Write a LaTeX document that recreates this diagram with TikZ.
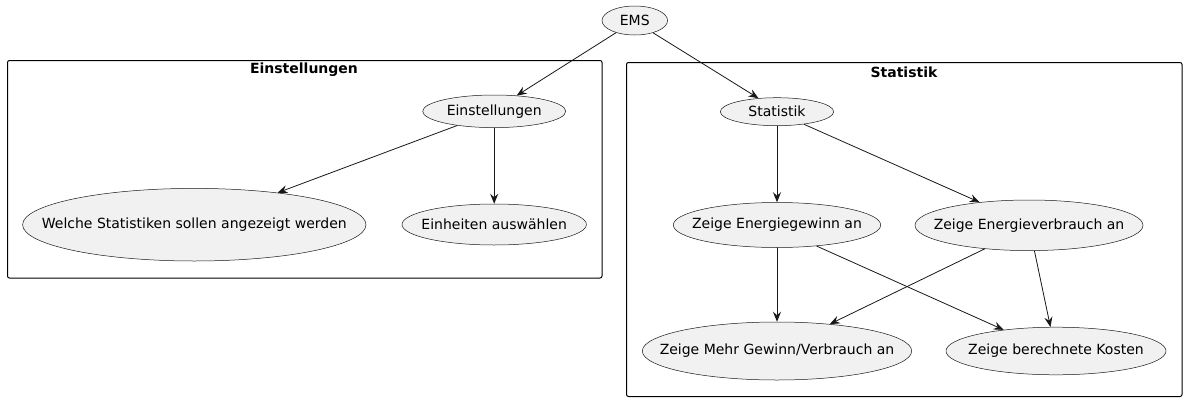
\documentclass[tikz,border=0pt]{standalone}
\usepackage{fontspec}
\setmainfont{DejaVu Sans}
\usetikzlibrary{shapes.geometric,arrows.meta}
\newcommand{\zw}[1]{\makebox[0pt]{#1}}
\tikzset{
  uc/.style={ellipse,draw={rgb,255:red,24;green,24;blue,24},line width=0.5pt,fill={rgb,255:red,241;green,241;blue,241},inner sep=0pt,font=\fontsize{14}{16}\selectfont},
  frame/.style={draw=black,line width=1pt,rounded corners=2pt},
  ftitle/.style={font=\bfseries\fontsize{14}{16}\selectfont},
  conn/.style={draw={rgb,255:red,24;green,24;blue,24},line width=0.8pt,-{Stealth[length=10pt,width=8pt,inset=3.5pt]}}
}
\begin{document}
\begin{tikzpicture}[x=1pt,y=-1pt]
\useasboundingbox (0,0) rectangle (1187,402);
\fill[white] (0,0) rectangle (1187,402);
% frames
\draw[frame] (7.5,60.5) rectangle (602,278);
\node[ftitle] (t1) at (304,70) {Einstellungen};
\draw[frame] (626.5,62.5) rectangle (1182,396.5);
\node[ftitle] (t2) at (904,72) {Statistik};
% nodes
\node[uc,minimum width=65.6pt,minimum height=29pt] (ems) at (634.8,20.5) {\zw{EMS}};
\node[uc,minimum width=143pt,minimum height=32.6pt] (ein) at (494.2,111.3) {\zw{Einstellungen}};
\node[uc,minimum width=343.4pt,minimum height=72.6pt] (wel) at (194.3,224.7) {\zw{Welche Statistiken sollen angezeigt werden}};
\node[uc,minimum width=184.4pt,minimum height=41pt] (eia) at (494.2,224.5) {\zw{Einheiten auswählen}};
\node[uc,minimum width=113.4pt,minimum height=28pt] (sta) at (777,111.7) {\zw{Statistik}};
\node[uc,minimum width=207.4pt,minimum height=45pt] (gew) at (777,225) {\zw{Zeige Energiegewinn an}};
\node[uc,minimum width=228pt,minimum height=50.6pt] (ver) at (1029,225.3) {\zw{Zeige Energieverbrauch an}};
\node[uc,minimum width=269.4pt,minimum height=58pt] (meh) at (777,351) {\zw{Zeige Mehr Gewinn/Verbrauch an}};
\node[uc,minimum width=220pt,minimum height=47.6pt] (kos) at (1056,351) {\zw{Zeige berechnete Kosten}};
% connectors
\draw[conn] (ems.213.1) -- (ein.35.2);
\draw[conn] (ems.-34.5) -- (sta.144.2);
\draw[conn] (ein.201.9) -- (wel.21.1);
\draw[conn] (ein.south) -- (eia.north);
\draw[conn] (sta.south) -- (gew.north);
\draw[conn] (sta.-25.2) -- (ver.155.2);
\draw[conn] (gew.south) -- (meh.north);
\draw[conn] (gew.-28.7) -- (kos.158.9);
\draw[conn] (ver.208.4) -- (meh.27.3);
\draw[conn] (ver.-78.9) -- (kos.103.9);
\end{tikzpicture}
\end{document}
